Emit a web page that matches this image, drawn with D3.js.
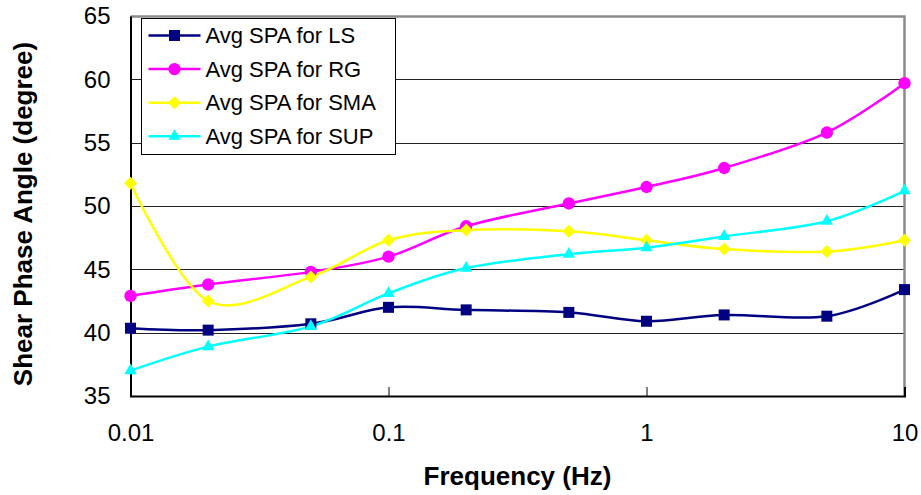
<!DOCTYPE html>
<html>
<head>
<meta charset="utf-8">
<script src="https://cdn.jsdelivr.net/npm/d3@7"></script>
<style>
  body { margin: 0; background: #fff; }
  text { font-family: "Liberation Sans", Arial, sans-serif; }
</style>
</head>
<body>
<div id="chart"></div>
<script>
// frequencies (Hz)
var freqs = [0.01, 0.02, 0.05, 0.1, 0.2, 0.5, 1, 2, 5, 10];

var spaLS  = [40.35, 40.2, 40.7, 42.0, 41.8, 41.6, 40.9, 41.4, 41.3, 43.4];
var spaRG  = [42.9, 43.8, 44.8, 46.0, 48.4, 50.2, 51.5, 53.0, 55.8, 59.7];
var spaSMA = [51.8, 42.5, 44.4, 47.3, 48.1, 48.0, 47.3, 46.6, 46.4, 47.3];
var spaSUP = [37.0, 38.9, 40.5, 43.1, 45.1, 46.2, 46.7, 47.6, 48.8, 51.2];

var seriesNames = ["Avg SPA for LS", "Avg SPA for RG", "Avg SPA for SMA", "Avg SPA for SUP"];
var yTicks = [35, 40, 45, 50, 55, 60, 65];
var xTicks = [0.01, 0.1, 1, 10];

var W = 921, H = 495;
var margin = { top: 16, right: 16.5, bottom: 99, left: 130.5 };
var width = W - margin.left - margin.right,
    height = H - margin.top - margin.bottom;

var svg = d3.select("#chart").append("svg")
    .attr("width", W)
    .attr("height", H);

var g = svg.append("g")
    .attr("transform", "translate(" + margin.left + "," + margin.top + ")");

var x = d3.scaleLog().domain([0.01, 10]).range([0, width]);
var y = d3.scaleLinear().domain([35, 65]).range([height, 0]);

// gridlines
g.selectAll("line.grid")
    .data(yTicks.slice(1, -1))
    .enter().append("line")
    .attr("class", "grid")
    .attr("x1", 0).attr("x2", width)
    .attr("y1", function(d) { return Math.round(y(d)) + 0.5; })
    .attr("y2", function(d) { return Math.round(y(d)) + 0.5; })
    .attr("stroke", "#222")
    .attr("stroke-width", 1);

// top / right border (grey)
g.append("path")
    .attr("d", "M0," + 0.5 + "H" + width + "V" + height)
    .attr("fill", "none")
    .attr("stroke", "#8c8c8c")
    .attr("stroke-width", 2.5);

// y axis
var yAxis = d3.axisLeft(y).tickValues(yTicks).tickSize(0).tickPadding(20);
var yg = g.append("g").call(yAxis);
yg.select(".domain").attr("stroke", "#000").attr("stroke-width", 2);
yg.selectAll("text").attr("font-size", 24).attr("fill", "#000")
    .attr("font-family", "Liberation Sans, Arial, sans-serif");

// x axis
var xAxis = d3.axisBottom(x).tickValues(xTicks).tickSize(-9).tickPadding(28)
    .tickFormat(function(d) { return String(d); });
var xg = g.append("g").attr("transform", "translate(0," + height + ")").call(xAxis);
xg.select(".domain").attr("stroke", "#000").attr("stroke-width", 2);
xg.selectAll(".tick line").attr("stroke", "#000").attr("stroke-width", 1);
xg.selectAll("text").attr("font-size", 24).attr("fill", "#000")
    .attr("font-family", "Liberation Sans, Arial, sans-serif");

// axis titles
svg.append("text")
    .attr("x", margin.left + width / 2)
    .attr("y", 485)
    .attr("text-anchor", "middle")
    .attr("font-weight", "bold")
    .attr("font-size", 26)
    .text("Frequency (Hz)");

svg.append("text")
    .attr("transform", "translate(32," + 214 + ") rotate(-90)")
    .attr("text-anchor", "middle")
    .attr("font-weight", "bold")
    .attr("font-size", 26)
    .text("Shear Phase Angle (degree)");

// series
var series = [
    { name: seriesNames[0], values: spaLS,  color: "#000080", symbol: d3.symbolSquare,   size: 121, rot: 0 },
    { name: seriesNames[1], values: spaRG,  color: "#ff00ff", symbol: d3.symbolCircle,   size: 120, rot: 0 },
    { name: seriesNames[2], values: spaSMA, color: "#ffff00", symbol: d3.symbolSquare,   size: 84,  rot: 45 },
    { name: seriesNames[3], values: spaSUP, color: "#00ffff", symbol: d3.symbolTriangle, size: 66,  rot: 0 }
];

var line = d3.line()
    .x(function(d) { return x(d[0]); })
    .y(function(d) { return y(d[1]); })
    .curve(d3.curveCardinal.tension(0));

var plot = g.append("g");
series.forEach(function(s) {
    var pts = freqs.map(function(f, i) { return [f, s.values[i]]; });
    plot.append("path")
        .datum(pts)
        .attr("d", line)
        .attr("fill", "none")
        .attr("stroke", s.color)
        .attr("stroke-width", 2.5);
    s.pts = pts;
});
series.forEach(function(s) {
    plot.selectAll(null)
        .data(s.pts)
        .enter().append("path")
        .attr("d", d3.symbol().type(s.symbol).size(s.size))
        .attr("transform", function(d) {
            return "translate(" + x(d[0]) + "," + y(d[1]) + ") rotate(" + s.rot + ")";
        })
        .attr("fill", s.color);
});

// legend
var legend = svg.append("g").attr("transform", "translate(141.5,18.5)");
legend.append("rect")
    .attr("width", 254).attr("height", 136)
    .attr("fill", "#fff").attr("stroke", "#000").attr("stroke-width", 1);

var items = legend.selectAll("g.item")
    .data(series)
    .enter().append("g")
    .attr("class", "item")
    .attr("transform", function(d, i) { return "translate(0," + (17 + i * 33.6) + ")"; });

items.append("line")
    .attr("x1", 7).attr("x2", 59)
    .attr("stroke", function(d) { return d.color; })
    .attr("stroke-width", 2.5);
items.append("path")
    .attr("d", function(d) { return d3.symbol().type(d.symbol).size(d.size)(); })
    .attr("transform", function(d) { return "translate(33,0) rotate(" + d.rot + ")"; })
    .attr("fill", function(d) { return d.color; });
items.append("text")
    .attr("x", 64)
    .attr("dy", "0.35em")
    .attr("font-size", 22)
    .text(function(d) { return d.name; });
</script>
</body>
</html>
